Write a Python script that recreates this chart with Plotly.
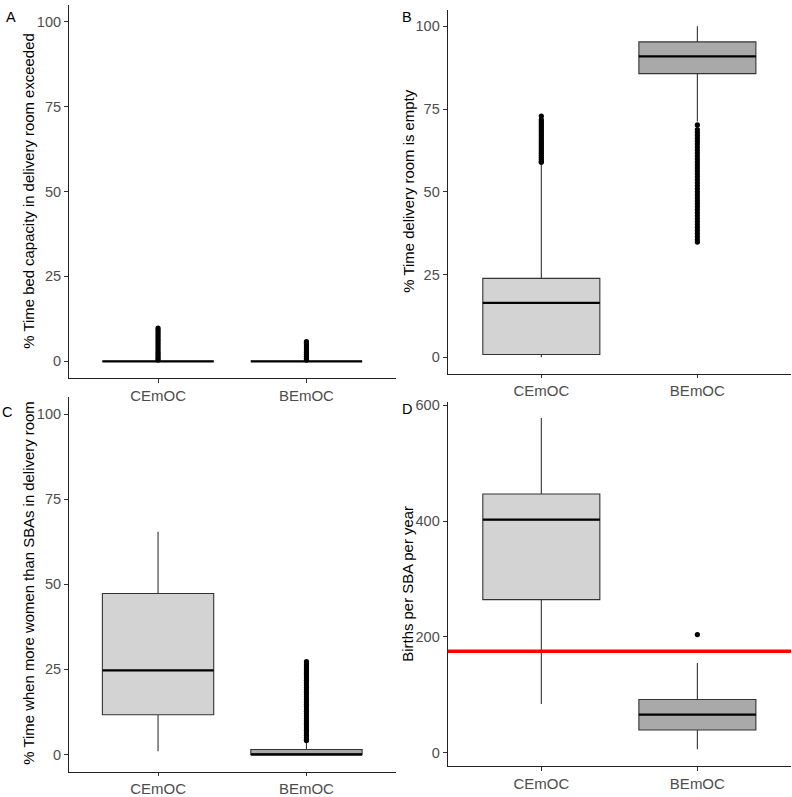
import plotly.graph_objects as go

# ---------------- data ----------------
categories = ["CEmOC", "BEmOC"]
fills = ["#D3D3D3", "#A9A9A9"]

# Panel A: % time bed capacity in delivery room exceeded
a_q1 = [0.0, 0.0]
a_med = [0.0, 0.0]
a_q3 = [0.0, 0.0]
a_lo = [0.0, 0.0]
a_hi = [0.0, 0.0]
a_out_cemoc = [0.4, 0.9, 1.5, 2.1, 2.7, 3.3, 3.9, 4.5, 5.1, 5.7, 6.3, 6.9, 7.5, 8.1, 8.7, 9.3, 9.8]
a_out_bemoc = [0.4, 0.9, 1.5, 2.1, 2.7, 3.3, 3.9, 4.5, 5.1, 5.5, 5.8]

# Panel B: % time delivery room is empty
b_q1 = [0.8, 85.7]
b_med = [16.4, 90.9]
b_q3 = [23.8, 95.3]
b_lo = [0.0, 71.2]
b_hi = [58.3, 100.0]
b_out_cemoc = [72.9, 71.8, 71.2, 70.6, 70.0, 69.4, 68.8, 68.2, 67.6, 67.0, 66.4, 65.8, 65.2,
               64.6, 64.0, 63.4, 62.8, 62.2, 61.6, 61.0, 60.4, 59.8, 59.2, 58.9]
b_out_bemoc = [70.2, 68.8, 68.0, 67.1, 66.2, 65.3, 64.4, 63.5, 62.6, 61.7, 60.8, 59.9, 59.0,
               58.1, 57.2, 56.3, 55.4, 54.5, 53.6, 52.7, 51.8, 50.9, 50.0, 49.1, 48.2, 47.3,
               46.4, 45.5, 44.6, 43.7, 42.8, 41.9, 41.0, 40.1, 39.2, 38.3, 37.4, 36.5, 35.6, 34.8]

# Panel C: % time when more women than SBAs in delivery room
c_q1 = [11.7, 0.0]
c_med = [24.7, 0.0]
c_q3 = [47.3, 1.5]
c_lo = [1.0, 0.0]
c_hi = [65.4, 3.8]
c_out_cemoc = []
c_out_bemoc = [27.3, 26.6, 26.0, 25.3, 24.6, 23.9, 23.2, 22.5, 21.8, 21.1, 20.4, 19.7, 19.0,
               18.3, 17.6, 16.9, 16.2, 15.5, 14.8, 14.1, 13.4, 12.7, 12.0, 11.3, 10.6, 9.9,
               9.2, 8.5, 7.8, 7.1, 6.4, 5.7, 5.0, 4.4, 4.1]

# Panel D: births per SBA per year
d_q1 = [264.2, 39.0]
d_med = [402.4, 65.6]
d_q3 = [446.6, 91.7]
d_lo = [83.7, 5.6]
d_hi = [577.8, 154.5]
d_out_cemoc = []
d_out_bemoc = [203.8]
d_reference = 175.0

y_titles = [
    "% Time bed capacity in delivery room exceeded",
    "% Time delivery room is empty",
    "% Time when more women than SBAs in delivery room",
    "Births per SBA per year",
]
panel_letters = ["A", "B", "C", "D"]
pct_ticks = [0, 25, 50, 75, 100]
births_ticks = [0, 200, 400, 600]

# ---------------- figure ----------------
W, H = 792, 797
BOXW = 0.75
FONT = "Liberation Sans, Arial, sans-serif"

fig = go.Figure()

panels = [
    dict(q1=a_q1, med=a_med, q3=a_q3, lo=a_lo, hi=a_hi, out=[a_out_cemoc, a_out_bemoc],
         xa="x", ya="y"),
    dict(q1=b_q1, med=b_med, q3=b_q3, lo=b_lo, hi=b_hi, out=[b_out_cemoc, b_out_bemoc],
         xa="x2", ya="y2"),
    dict(q1=c_q1, med=c_med, q3=c_q3, lo=c_lo, hi=c_hi, out=[c_out_cemoc, c_out_bemoc],
         xa="x3", ya="y3"),
    dict(q1=d_q1, med=d_med, q3=d_q3, lo=d_lo, hi=d_hi, out=[d_out_cemoc, d_out_bemoc],
         xa="x4", ya="y4"),
]

for p in panels:
    for i, cat in enumerate(categories):
        fig.add_trace(go.Box(
            x=[i], q1=[p["q1"][i]], median=[p["med"][i]], q3=[p["q3"][i]],
            lowerfence=[p["lo"][i]], upperfence=[p["hi"][i]],
            width=BOXW, whiskerwidth=0, fillcolor=fills[i],
            line=dict(color="#333333", width=1.1), boxpoints=False,
            xaxis=p["xa"], yaxis=p["ya"], showlegend=False, hoverinfo="skip"))
        # thicker median line (ggplot fatten)
        fig.add_trace(go.Scatter(
            x=[i - BOXW / 2, i + BOXW / 2], y=[p["med"][i]] * 2, mode="lines",
            line=dict(color="black", width=2.2), xaxis=p["xa"], yaxis=p["ya"],
            showlegend=False, hoverinfo="skip"))
        if p["out"][i]:
            fig.add_trace(go.Scatter(
                x=[i] * len(p["out"][i]), y=p["out"][i], mode="markers",
                marker=dict(color="black", size=5.2), xaxis=p["xa"], yaxis=p["ya"],
                showlegend=False, hoverinfo="skip", cliponaxis=False))

# reference line in panel D
fig.add_shape(type="line", xref="x4 domain", yref="y4", x0=0, x1=1,
              y0=d_reference, y1=d_reference, line=dict(color="#FF0000", width=3.6))

# domains from pixel positions
def px_x(a, b):
    return [a / W, b / W]

def px_y(top, bottom):
    return [1 - bottom / H, 1 - top / H]

xdomL = px_x(69, 395.5)
xdomR = px_x(447.7, 791)
doms = [
    (xdomL, px_y(0.7, 381)),
    (xdomR, px_y(5.9, 376.3)),
    (xdomL, px_y(400, 781.3)),
    (xdomR, px_y(404.7, 775.7)),
]
yranges = [[-5, 105], [-5, 105], [-5, 105], [-23.4, 606.3]]
ytickv = [pct_ticks, pct_ticks, pct_ticks, births_ticks]

layout = dict(
    width=W, height=H, margin=dict(l=0, r=0, t=0, b=0),
    paper_bgcolor="white", plot_bgcolor="white",
    font=dict(family=FONT, color="black"),
    boxmode="overlay",
)
for k in range(4):
    sx = "" if k == 0 else str(k + 1)
    layout["xaxis" + sx] = dict(
        domain=doms[k][0], anchor="y" + sx, range=[-0.6, 1.6],
        tickmode="array", tickvals=[0, 1], ticktext=categories,
        showline=True, linecolor="#222222", linewidth=1.1,
        ticks="outside", ticklen=3.5, tickcolor="#333333", tickwidth=1,
        tickfont=dict(size=15, color="#4D4D4D", family=FONT),
        showgrid=False, zeroline=False, fixedrange=True)
    layout["yaxis" + sx] = dict(
        domain=doms[k][1], anchor="x" + sx, range=yranges[k],
        tickmode="array", tickvals=ytickv[k], ticktext=[str(v) for v in ytickv[k]],
        showline=True, linecolor="#222222", linewidth=1.1,
        ticks="outside", ticklen=4, tickcolor="#333333", tickwidth=1,
        tickfont=dict(size=14.5, color="#4D4D4D", family=FONT),
        showgrid=False, zeroline=False, fixedrange=True)

fig.update_layout(**layout)

# y-axis titles as annotations
title_pos = [(29, 191), (409, 191), (29, 590), (408, 590)]
letter_pos = [(11, 13), (407, 13), (7, 415), (407, 412)]
for k in range(4):
    tx, ty = title_pos[k]
    fig.add_annotation(text=y_titles[k], xref="paper", yref="paper",
                       x=tx / W, y=1 - ty / H, textangle=-90, showarrow=False,
                       xanchor="center", yanchor="middle",
                       font=dict(size=14.9, color="black", family=FONT))
    lx, ly = letter_pos[k]
    fig.add_annotation(text=panel_letters[k], xref="paper", yref="paper",
                       x=lx / W, y=1 - ly / H, showarrow=False,
                       xanchor="center", yanchor="middle",
                       font=dict(size=14.5, color="black", family=FONT))

fig.write_html("out.html")
